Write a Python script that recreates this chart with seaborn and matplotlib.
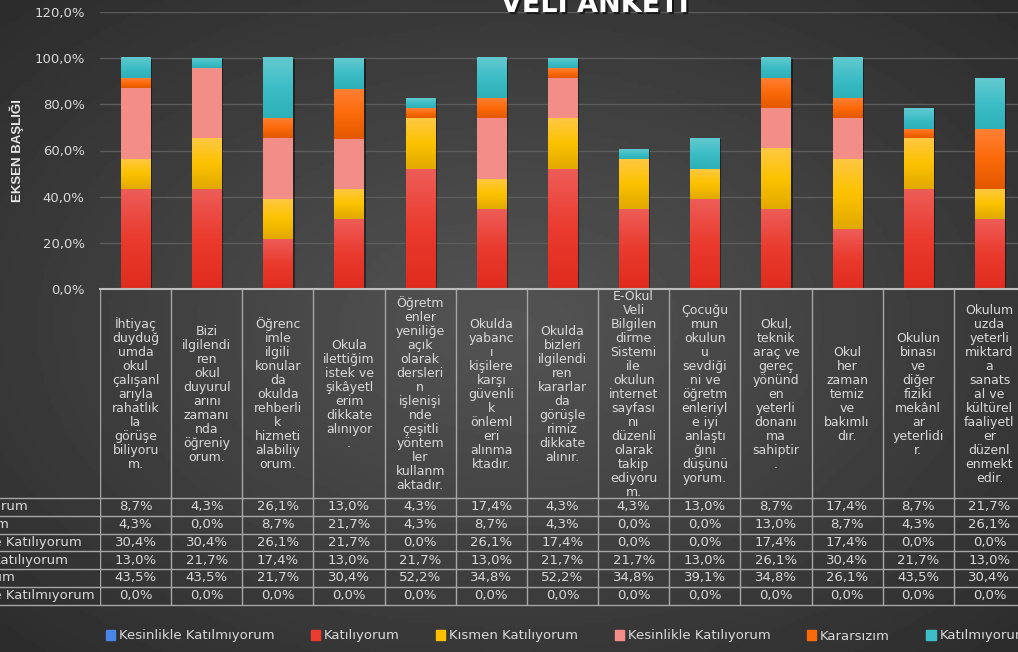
# import needed libraries
import numpy as np
import matplotlib.pyplot as plt
import matplotlib.patches as mpatches
import matplotlib.patheffects as pe
from matplotlib.colors import LinearSegmentedColormap
import seaborn as sns

# survey questions (wrapped the same way as in the original table header)
questions = [
    'İhtiyaç\nduyduğ\numda\nokul\nçalışanl\narıyla\nrahatlık\nla\ngörüşe\nbiliyoru\nm.',
    'Bizi\nilgilendi\nren\nokul\nduyurul\narını\nzamanı\nnda\nöğreniy\norum.',
    'Öğrenc\nimle\nilgili\nkonular\nda\nokulda\nrehberli\nk\nhizmeti\nalabiliy\norum.',
    'Okula\nilettiğim\nistek ve\nşikâyetl\nerim\ndikkate\nalınıyor\n.',
    'Öğretm\nenler\nyeniliğe\naçık\nolarak\ndersleri\nn\nişlenişi\nnde\nçeşitli\nyöntem\nler\nkullanm\naktadır.',
    'Okulda\nyabanc\nı\nkişilere\nkarşı\ngüvenli\nk\nönleml\neri\nalınma\nktadır.',
    'Okulda\nbizleri\nilgilendi\nren\nkararlar\nda\ngörüşle\nrimiz\ndikkate\nalınır.',
    'E-Okul\nVeli\nBilgilen\ndirme\nSistemi\nile\nokulun\ninternet\nsayfası\nnı\ndüzenli\nolarak\ntakip\nediyoru\nm.',
    'Çocuğu\nmun\nokulun\nu\nsevdiği\nni ve\nöğretm\nenleriyl\ne iyi\nanlaştı\nğını\ndüşünü\nyorum.',
    'Okul,\nteknik\naraç ve\ngereç\nyönünd\nen\nyeterli\ndonanı\nma\nsahiptir\n.',
    'Okul\nher\nzaman\ntemiz\nve\nbakımlı\ndır.',
    'Okulun\nbinası\nve\ndiğer\nfiziki\nmekânl\nar\nyeterlidi\nr.',
    'Okulum\nuzda\nyeterli\nmiktard\na\nsanats\nal ve\nkültürel\nfaaliyetl\ner\ndüzenl\nenmekt\nedir.',
]

# answer shares in percent (stack order, bottom to top)
kesinlikle_katilmiyorum = [0.0, 0.0, 0.0, 0.0, 0.0, 0.0, 0.0, 0.0, 0.0, 0.0, 0.0, 0.0, 0.0]
katiliyorum = [43.5, 43.5, 21.7, 30.4, 52.2, 34.8, 52.2, 34.8, 39.1, 34.8, 26.1, 43.5, 30.4]
kismen_katiliyorum = [13.0, 21.7, 17.4, 13.0, 21.7, 13.0, 21.7, 21.7, 13.0, 26.1, 30.4, 21.7, 13.0]
kesinlikle_katiliyorum = [30.4, 30.4, 26.1, 21.7, 0.0, 26.1, 17.4, 0.0, 0.0, 17.4, 17.4, 0.0, 0.0]
kararsizim = [4.3, 0.0, 8.7, 21.7, 4.3, 8.7, 4.3, 0.0, 0.0, 13.0, 8.7, 4.3, 26.1]
katilmiyorum = [8.7, 4.3, 26.1, 13.0, 4.3, 17.4, 4.3, 4.3, 13.0, 8.7, 17.4, 8.7, 21.7]

answer_labels = ['Kesinlikle Katılmıyorum', 'Katılıyorum', 'Kısmen Katılıyorum',
                 'Kesinlikle Katılıyorum', 'Kararsızım', 'Katılmıyorum']
y_ticks = [0, 20, 40, 60, 80, 100, 120]

stack = [kesinlikle_katilmiyorum, katiliyorum, kismen_katiliyorum,
         kesinlikle_katiliyorum, kararsizim, katilmiyorum]
colors = ['#4a86e8', '#ea3b2e', '#fcc000', '#f28e87', '#fb6a0a', '#3dbdc6']
# (bottom, middle, top) shades for the glossy bars
shades = [('#3b72d0', '#4a86e8', '#6a9cf0'),
          ('#e02c1e', '#ea3b2e', '#ee5d58'),
          ('#e2a900', '#fcc200', '#ffc843'),
          ('#f28e87', '#f28e87', '#f28e87'),
          ('#e45800', '#fb6a0a', '#ff8036'),
          ('#2db0b8', '#3dbdc6', '#62c9cf')]

text_c = '#d9d9d9'
line_c = '#a6a6a6'
W, H = 1018, 652

fig = plt.figure(figsize=(W / 100, H / 100), dpi=100)

# dark radial background
bg = fig.add_axes([0, 0, 1, 1], zorder=-10)
yy, xx = np.mgrid[0:1:200j, 0:1:300j]
r = np.sqrt(((xx - 0.5) / 0.72) ** 2 + ((yy - 0.5) / 0.72) ** 2)
bg.imshow(0.33 - 0.16 * np.clip(r, 0, 1), cmap='gray', vmin=0, vmax=1,
          extent=(0, 1, 0, 1), aspect='auto')
bg.axis('off')

# main bar area
ax = fig.add_axes([100 / W, 1 - 289 / H, 925 / W, 277 / H])
ax.set_facecolor('none')

bottom = np.zeros(len(questions))
for values, color, shade in zip(stack, colors, shades):
    n_before = len(ax.patches)
    sns.barplot(x=questions, y=values, order=questions, bottom=bottom, color=color,
                saturation=1, width=0.41, errorbar=None, ax=ax, zorder=2)
    cmap = LinearSegmentedColormap.from_list('bar', list(shade))
    for p in ax.patches[n_before:]:
        p.set_path_effects([pe.SimplePatchShadow(offset=(1.5, -0.3), shadow_rgbFace='black', alpha=0.45),
                            pe.Normal()])
        if p.get_height() > 0:
            x0, y0 = p.get_x(), p.get_y()
            ax.imshow(np.linspace(0, 1, 64).reshape(-1, 1), cmap=cmap, origin='lower',
                      extent=(x0, x0 + p.get_width(), y0, y0 + p.get_height()),
                      aspect='auto', zorder=2.1, interpolation='bilinear')
    bottom = bottom + np.array(values)

ax.set_xlim(-0.5, 12.5)
ax.set_ylim(0, 120)
ax.set_yticks(y_ticks)
ax.set_yticklabels([f'{v:.1f}%'.replace('.', ',') for v in y_ticks])
ax.tick_params(axis='y', length=0, pad=11, labelsize=9.5, labelcolor=text_c)
ax.tick_params(axis='x', length=0, labelbottom=False)
ax.grid(axis='y', color='#5c5c5c', lw=1)
ax.set_axisbelow(True)
for s in ['top', 'right', 'left']:
    ax.spines[s].set_visible(False)
ax.spines['bottom'].set_color('#bdbdbd')
ax.spines['bottom'].set_linewidth(1.5)
ax.set_xlabel('')
ax.set_ylabel('')

fig.text(17 / W, 1 - 151 / H, 'EKSEN BAŞLIĞI', rotation=90, ha='center', va='center',
         fontweight='bold', fontsize=9.5, color='#e6e6e6',
         family=['Liberation Sans Narrow', 'Liberation Sans'])

fig.text(595 / W, 1 - 12 / H, 'VELİ ANKETİ', ha='center', va='baseline', fontsize=19.5,
         fontweight='bold', color='white',
         path_effects=[pe.withSimplePatchShadow(offset=(1.5, -1.5), shadow_rgbFace='black', alpha=0.6)])

# data table under the bars
header_h, row_h = 209, 17.75
tab_h = header_h + 6 * row_h
tab = fig.add_axes([100 / W, 1 - (289 + tab_h) / H, 925 / W, tab_h / H])
tab.set_xlim(-0.5, 12.5)
tab.set_ylim(tab_h, 0)
tab.axis('off')
tab.vlines(np.arange(len(questions) + 1) - 0.5, 0, tab_h, color=line_c, lw=1)
tab.hlines(header_h + row_h * np.arange(7), -3, 12.5, color=line_c, lw=1, clip_on=False)

for i, q in enumerate(questions):
    tab.text(i, header_h / 2 + 1, q, ha='center', va='center', fontsize=9, color=text_c,
             linespacing=1.1, multialignment='center')

table_rows = list(zip(answer_labels, stack))[::-1]
for r_i, (name, values) in enumerate(table_rows):
    yc = header_h + row_h * (r_i + 0.5)
    for i, v in enumerate(values):
        tab.text(i, yc, f'{v:.1f}%'.replace('.', ','), ha='center', va='center',
                 fontsize=9.5, color=text_c)

# row labels: left aligned, cut off by the left edge like the original
renderer = fig.canvas.get_renderer()
probe = fig.text(0, 0, max(answer_labels, key=len), fontsize=9.5)
label_w = probe.get_window_extent(renderer).width
probe.remove()
for r_i, (name, values) in enumerate(table_rows):
    yc = 289 + header_h + row_h * (r_i + 0.5)
    fig.text((95 - label_w) / W, 1 - yc / H, name, ha='left', va='center',
             fontsize=9.5, color=text_c)

handles = [mpatches.Patch(color=c, label=l) for c, l in zip(colors, answer_labels)]
fig.legend(handles=handles, loc='center', bbox_to_anchor=(567 / W, 1 - 636 / H), ncol=6,
           frameon=False, fontsize=9.5, labelcolor=text_c, handlelength=0.7, handleheight=0.7,
           handletextpad=0.3, columnspacing=2.75)

fig.savefig('out.png', dpi=100)
